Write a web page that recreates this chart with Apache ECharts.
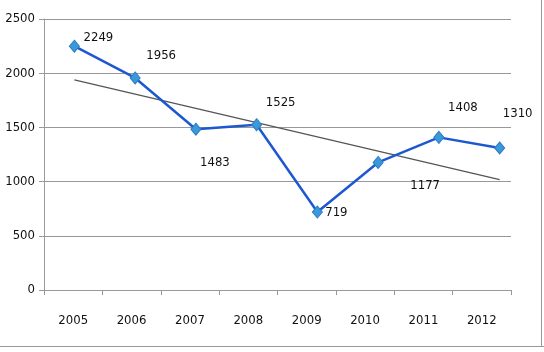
<!DOCTYPE html>
<html>
<head>
<meta charset="utf-8">
<script src="https://cdn.jsdelivr.net/npm/echarts@6/dist/echarts.min.js"></script>
<style>
  html, body { margin: 0; padding: 0; background: #fff; }
  #main { width: 544px; height: 352px; }
</style>
</head>
<body>
<div id="main"></div>
<script>
// data
var years = ['2005', '2006', '2007', '2008', '2009', '2010', '2011', '2012'];
var values = [2249, 1956, 1483, 1525, 719, 1177, 1408, 1310];
// trend line end points
var trendStart = 1938;
var trendEnd = 1018;
var yTicks = [0, 500, 1000, 1500, 2000, 2500];

// label offsets (px) from each point
var labelOffsets = [[24, -9], [26, -22], [19, 33], [24, -22], [19, 1], [47, 23], [24, -30], [18, -34]];

var font = "'Liberation Sans Narrow', 'DejaVu Sans Condensed', sans-serif";

var trend = years.map(function (y, i) {
    if (i === 0) return trendStart;
    if (i === years.length - 1) return trendEnd;
    return null;
});

var yMin = yTicks[0], yMax = yTicks[yTicks.length - 1];

var myChart = echarts.init(document.getElementById('main'));
var option = {
    animation: false,
    // grid 0: visible axes; grid 1: the plotted points sit slightly wider in the original
    grid: [
        { left: 44, right: 33, top: 19, bottom: 62 },
        { left: 44, right: 14, top: 19, bottom: 62 }
    ],
    xAxis: [
        {
            type: 'category',
            gridIndex: 0,
            data: years,
            boundaryGap: true,
            axisLine: { lineStyle: { color: '#999' } },
            axisTick: { show: true, length: 5, interval: 0, lineStyle: { color: '#999' } },
            axisLabel: { color: '#111', fontFamily: font, fontSize: 13, margin: 24 }
        },
        {
            type: 'category',
            gridIndex: 1,
            data: years,
            boundaryGap: true,
            show: false
        }
    ],
    yAxis: [
        {
            type: 'value',
            gridIndex: 0,
            min: yMin,
            max: yMax,
            interval: 500,
            axisLine: { show: true, lineStyle: { color: '#999' } },
            axisTick: { show: true, length: 5, lineStyle: { color: '#999' } },
            axisLabel: {
                color: '#111', fontFamily: font, fontSize: 13, margin: 9,
                formatter: function (v) { return String(v); }
            },
            splitLine: { lineStyle: { color: '#999' } }
        },
        {
            type: 'value',
            gridIndex: 1,
            min: yMin,
            max: yMax,
            interval: 500,
            show: false
        }
    ],
    graphic: [
        { type: 'line', shape: { x1: 0, y1: 346.5, x2: 544, y2: 346.5 }, style: { stroke: '#999', lineWidth: 1 } },
        { type: 'line', shape: { x1: 541.5, y1: 0, x2: 541.5, y2: 347 }, style: { stroke: '#999', lineWidth: 1 } }
    ],
    series: [
        {
            name: 'trend',
            type: 'line',
            xAxisIndex: 1,
            yAxisIndex: 1,
            data: trend,
            connectNulls: true,
            symbol: 'none',
            lineStyle: { color: '#555', width: 1.2 },
            z: 1
        },
        {
            name: 'value',
            type: 'line',
            xAxisIndex: 1,
            yAxisIndex: 1,
            data: values.map(function (v, i) {
                return {
                    value: v,
                    label: { offset: labelOffsets[i] }
                };
            }),
            symbol: 'diamond',
            symbolSize: [10, 12],
            itemStyle: { color: '#3a9ad9', borderColor: '#2b7cc6', borderWidth: 1 },
            lineStyle: { color: '#1d58d0', width: 2.5 },
            label: {
                show: true,
                position: 'inside',
                color: '#111',
                fontFamily: font,
                fontSize: 13
            },
            z: 2
        }
    ]
};
myChart.setOption(option);
</script>
</body>
</html>
